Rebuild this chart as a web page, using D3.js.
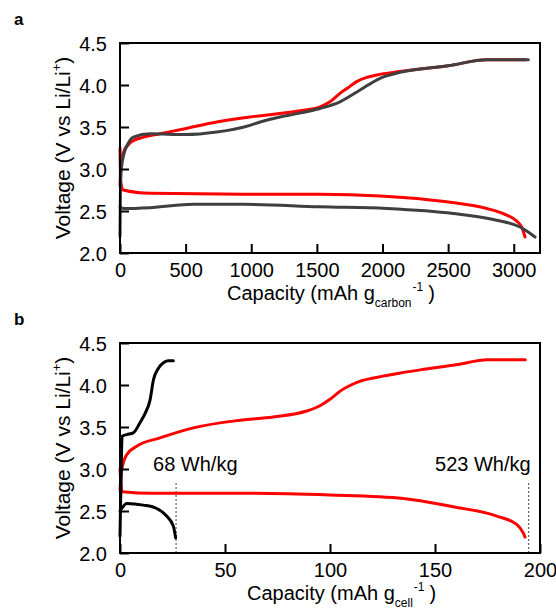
<!DOCTYPE html>
<html><head><meta charset="utf-8">
<script src="https://cdn.jsdelivr.net/npm/d3@7"></script>
<style>
body{margin:0;background:#fff;}
text{font-family:"Liberation Sans",Arial,sans-serif;fill:#000;}
</style></head>
<body><svg id="chart" width="556" height="610"></svg>
<script>
// ---------- Data ----------
const xTicksA = [0, 500, 1000, 1500, 2000, 2500, 3000];
const xTicksB = [0, 50, 100, 150, 200];
const yTicks = [2.0, 2.5, 3.0, 3.5, 4.0, 4.5];

// Panel a (mAh g_carbon^-1)
const redChargeA_cap = [0, 5, 25, 76, 178, 305, 495, 737, 990, 1219, 1400, 1524, 1600, 1676, 1740, 1803, 1880, 1956, 2133, 2286, 2500, 2794, 2900, 3086];
const redChargeA_v   = [2.80, 2.99, 3.19, 3.31, 3.38, 3.42, 3.48, 3.56, 3.62, 3.66, 3.70, 3.74, 3.80, 3.90, 3.97, 4.04, 4.09, 4.12, 4.16, 4.19, 4.23, 4.30, 4.30, 4.30];
const grayChargeA_cap = [0, 3, 10, 30, 60, 102, 229, 495, 737, 990, 1067, 1219, 1320, 1524, 1676, 1829, 1981, 2133, 2286, 2500, 2794, 2900, 3111];
const grayChargeA_v   = [2.20, 2.70, 3.00, 3.18, 3.30, 3.38, 3.42, 3.41, 3.44, 3.52, 3.56, 3.62, 3.65, 3.72, 3.80, 3.94, 4.08, 4.15, 4.19, 4.23, 4.30, 4.30, 4.30];
const redDischargeA_cap = [0, 5, 25, 229, 940, 1524, 1981, 2489, 2794, 2900, 2997, 3030, 3060, 3086];
const redDischargeA_v   = [3.25, 2.85, 2.75, 2.71, 2.70, 2.70, 2.68, 2.61, 2.53, 2.48, 2.41, 2.37, 2.31, 2.19];
const grayDischargeA_cap = [0, 25, 229, 559, 940, 1524, 2032, 2540, 2870, 3048, 3110, 3162];
const grayDischargeA_v   = [2.55, 2.53, 2.54, 2.58, 2.58, 2.55, 2.53, 2.47, 2.39, 2.31, 2.25, 2.19];

// Panel b (mAh g_cell^-1)
const blackChargeB_cap = [0, 0.5, 1, 3.2, 6.3, 9.5, 11.9, 14.3, 15.9, 18.3, 21, 23, 25.4];
const blackChargeB_v   = [2.20, 2.90, 3.39, 3.41, 3.43, 3.55, 3.66, 3.82, 4.06, 4.20, 4.27, 4.29, 4.29];
const blackDischargeB_cap = [0, 0.8, 3.2, 11.1, 17.5, 22.2, 25.4, 26.5];
const blackDischargeB_v   = [2.50, 2.53, 2.59, 2.57, 2.53, 2.44, 2.32, 2.18];
const redChargeB_cap = [0, 0.8, 3.2, 7.9, 19, 34.9, 57, 73, 88.9, 95, 100, 105, 110, 115, 120, 133, 143, 160, 175, 193];
const redChargeB_v   = [2.75, 2.99, 3.17, 3.27, 3.37, 3.49, 3.58, 3.62, 3.69, 3.75, 3.83, 3.93, 4.00, 4.05, 4.08, 4.14, 4.18, 4.24, 4.30, 4.30];
const redDischargeB_cap = [0, 1, 15.9, 62, 100, 134.9, 158.7, 179.4, 188.9, 192, 192.9];
const redDischargeB_v   = [3.00, 2.73, 2.71, 2.71, 2.69, 2.65, 2.55, 2.44, 2.34, 2.24, 2.19];

const markerCaps = [26.7, 194.6];
const markerLabels = ["68 Wh/kg", "523 Wh/kg"];
const markerTop = 2.85;

// ---------- Drawing ----------
const svg = d3.select("#chart");
const zip = (xs, ys) => xs.map((x, i) => [x, ys[i]]);

function panel(cfg) {
  const g = svg.append("g");
  const x = d3.scaleLinear().domain(cfg.xDomain).range([120, 540]);
  const y = d3.scaleLinear().domain([2.0, 4.5]).range([cfg.bottom, cfg.bottom - 210]);
  const line = d3.line().x(d => x(d[0])).y(d => y(d[1])).curve(d3.curveMonotoneX);

  if (cfg.markers) {
    cfg.markers.forEach(m => {
      g.append("line").attr("x1", x(m)).attr("x2", x(m))
        .attr("y1", y(2.0)).attr("y2", y(markerTop))
        .attr("stroke", "#444").attr("stroke-width", 1).attr("stroke-dasharray", "2,2");
    });
  }

  cfg.series.forEach(s => {
    g.append("path").attr("d", line(s.data)).attr("fill", "none")
      .attr("stroke", s.color).attr("stroke-width", 3)
      .attr("stroke-linejoin", "round").attr("stroke-linecap", "round");
  });

  const xAxis = d3.axisBottom(x).tickValues(cfg.xTicks).tickSizeInner(-9).tickSizeOuter(0).tickPadding(10).tickFormat(d3.format("d"));
  const gx = g.append("g").attr("transform", `translate(0,${cfg.bottom})`).call(xAxis);
  const yAxis = d3.axisLeft(y).tickValues(yTicks).tickSizeInner(-9).tickSizeOuter(0).tickPadding(13).tickFormat(d3.format(".1f"));
  const gy = g.append("g").attr("transform", `translate(120,0)`).call(yAxis);
  [gx, gy].forEach(a => {
    a.select(".domain").remove();
    a.selectAll(".tick line").attr("stroke", "#000").attr("stroke-width", 2);
    a.selectAll(".tick text").style("font-size", "20px").style("font-family", "'Liberation Sans',Arial,sans-serif").attr("fill", "#000");
  });
  gy.selectAll(".tick text").attr("dy", "0.36em");

  g.append("rect").attr("x", 120).attr("y", cfg.bottom - 210).attr("width", 420).attr("height", 210)
    .attr("fill", "none").attr("stroke", "#000").attr("stroke-width", 2);

  // y title
  const yt = g.append("text").attr("transform", `translate(70,${cfg.bottom - 105}) rotate(-90)`)
    .attr("text-anchor", "middle").style("font-size", "21px");
  yt.append("tspan").text("Voltage (V vs Li/Li");
  yt.append("tspan").attr("dy", "-9").style("font-size", "13px").text("+");
  yt.append("tspan").attr("dy", "9").text(")");

  // x title
  const xt = g.append("text").attr("x", cfg.xTitleX).attr("y", cfg.bottom + 47).style("font-size", "20px");
  xt.append("tspan").text("Capacity (mAh g");
  xt.append("tspan").attr("dy", "7").style("font-size", "12px").text(cfg.sub);
  xt.append("tspan").attr("dy", "-16").attr("dx", "1").style("font-size", "12px").text("-1");
  xt.append("tspan").attr("dy", "9").attr("dx", "5").text(")");

  g.append("text").attr("x", 14).attr("y", cfg.bottom - 228).style("font-size", "17px").style("font-weight", "bold").text(cfg.label);

  if (cfg.markers) {
    g.append("text").attr("x", x(cfg.markers[0]) - 23).attr("y", y(2.98)).style("font-size", "20px").text(markerLabels[0]);
    g.append("text").attr("x", x(cfg.markers[1]) + 2).attr("y", y(2.98)).attr("text-anchor", "end").style("font-size", "20px").text(markerLabels[1]);
  }
}

panel({
  label: "a", bottom: 253, xDomain: [0, 3200], xTicks: xTicksA, sub: "carbon", xTitleX: 227,
  series: [
    {color: "#ff0000", data: zip(redChargeA_cap, redChargeA_v)},
    {color: "#ff0000", data: zip(redDischargeA_cap, redDischargeA_v)},
    {color: "#3f3f3f", data: zip(grayChargeA_cap, grayChargeA_v)},
    {color: "#3f3f3f", data: zip(grayDischargeA_cap, grayDischargeA_v)}
  ]
});
panel({
  label: "b", bottom: 553, xDomain: [0, 200], xTicks: xTicksB, sub: "cell", xTitleX: 247, markers: markerCaps,
  series: [
    {color: "#ff0000", data: zip(redChargeB_cap, redChargeB_v)},
    {color: "#ff0000", data: zip(redDischargeB_cap, redDischargeB_v)},
    {color: "#000000", data: zip(blackChargeB_cap, blackChargeB_v)},
    {color: "#000000", data: zip(blackDischargeB_cap, blackDischargeB_v)}
  ]
});
</script></body></html>
